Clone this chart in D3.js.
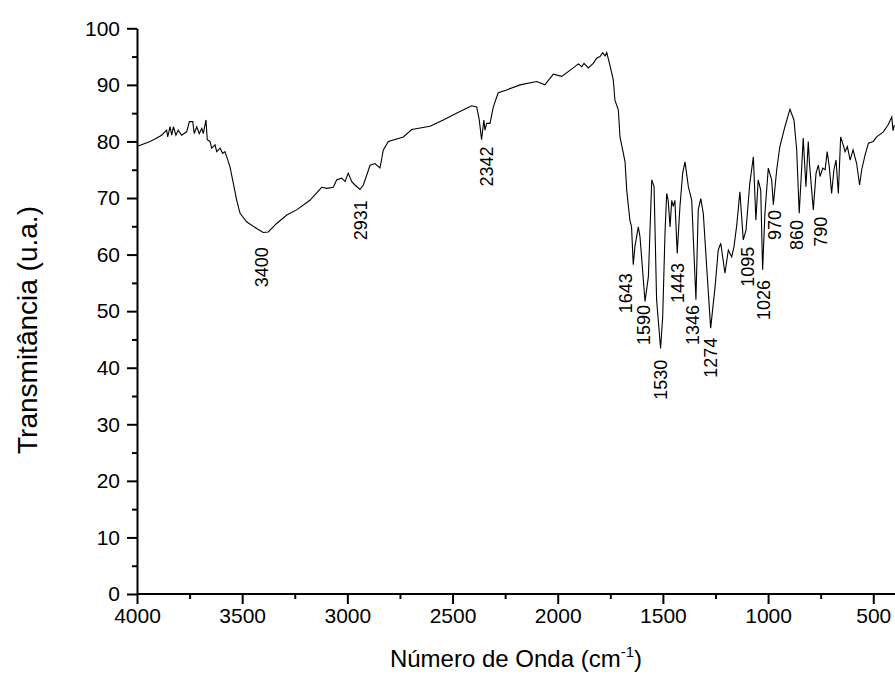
<!DOCTYPE html>
<html>
<head>
<meta charset="utf-8">
<script src="https://cdn.jsdelivr.net/npm/d3@7/dist/d3.min.js"></script>
<style>
  body { margin: 0; background: #fff; }
  svg { display: block; font-family: "Liberation Sans", Arial, sans-serif; }
</style>
</head>
<body>
<svg id="chart" width="895" height="684"></svg>
<script>
// Wavenumber (cm-1) and transmittance (u.a.)
const wavenumbers = [3994,3938,3906,3883,3859,3854,3843,3835,3827,3815,3804,3788,3764,3751,3735,3728,3716,3704,3692,3685,3672,3666,3653,3645,3629,3621,3605,3593,3582,3571,3558,3542,3526,3510,3479,3431,3400,3376,3336,3288,3241,3178,3122,3098,3067,3051,3027,3011,2996,2979,2964,2940,2924,2892,2869,2845,2829,2805,2734,2694,2607,2544,2465,2409,2385,2373,2362,2351,2346,2338,2322,2306,2283,2243,2179,2100,2061,2021,1981,1926,1902,1886,1875,1855,1831,1815,1799,1786,1775,1767,1752,1736,1728,1712,1704,1688,1680,1672,1657,1649,1641,1633,1617,1609,1585,1569,1553,1542,1530,1511,1501,1490,1482,1475,1466,1458,1451,1443,1432,1419,1406,1395,1379,1363,1343,1332,1320,1308,1292,1273,1252,1237,1225,1205,1189,1173,1162,1149,1134,1118,1105,1087,1070,1058,1047,1035,1026,1015,999,983,975,959,944,920,896,877,864,852,840,833,820,809,803,785,772,761,753,740,729,719,709,698,687,677,666,655,643,634,623,610,596,579,565,555,539,523,500,484,452,430,412,406,400];
const transmittance = [79.2,80.0,80.6,81.1,82.0,80.8,82.6,81.1,82.6,81.1,82.0,81.1,81.7,83.5,83.5,81.4,82.6,81.4,82.3,81.4,83.8,80.3,80.0,78.8,79.4,78.2,78.8,77.9,78.2,77.0,75.5,72.6,69.6,67.3,65.8,64.6,63.9,64.0,65.5,67.0,67.9,69.6,71.9,71.7,71.9,73.2,73.5,72.9,74.4,72.9,72.3,71.5,72.3,75.8,76.1,75.3,78.5,80.0,80.8,82.1,82.7,83.8,85.3,86.3,86.1,83.8,80.3,83.8,82.0,83.2,83.2,86.1,88.6,89.1,90.0,90.6,90.0,91.9,91.5,93.0,93.7,93.2,93.8,93.0,93.8,94.7,95.0,95.7,95.1,95.7,93.5,90.9,87.3,85.6,80.8,77.9,76.4,71.4,66.1,64.9,58.2,61.4,64.9,63.2,51.7,56.1,73.2,72.0,52.0,43.4,49.0,63.8,70.8,69.6,64.9,69.6,68.5,69.6,60.2,68.5,74.4,76.4,72.0,69.6,52.0,67.9,69.9,67.3,57.9,47.0,54.3,60.8,62.0,56.7,60.8,59.6,61.4,65.2,71.1,62.6,64.3,72.6,77.3,66.1,73.2,71.4,57.3,67.3,75.3,73.2,68.8,75.0,79.1,82.6,85.7,83.8,78.5,67.3,75.5,80.6,72.0,80.0,76.0,67.9,74.4,75.8,73.8,75.3,75.0,78.2,75.5,70.8,75.0,76.7,70.8,80.8,79.4,78.2,79.1,76.7,78.5,76.1,72.3,75.0,77.6,79.7,80.0,80.8,81.7,82.9,84.3,81.9,82.9];

// Peak annotations: text, wavenumber where the label sits, transmittance at the label's top
const peakTexts = ["3400","2931","2342","1643","1590","1530","1443","1346","1274","1095","1026","970","860","790"];
const peakLabelWn = [3405,2935,2338,1677,1590,1510,1428,1359,1272,1098,1020,967,864,750];
const peakLabelTop = [61.3,69.6,79.1,56.7,51.1,41.4,58.5,51.1,45.3,61.4,55.5,67.9,66.1,66.7];

const xTicks = [4000,3500,3000,2500,2000,1500,1000,500];
const xMinorTicks = [3750,3250,2750,2250,1750,1250,750];
const yTicks = [0,10,20,30,40,50,60,70,80,90,100];
const yMinorTicks = [5,15,25,35,45,55,65,75,85,95];

const xTitle = "Número de Onda (cm";
const xTitleSup = "-1";
const yTitle = "Transmitância (u.a.)";

const svg = d3.select("#chart");
const mLeft = 137, mRight = 894.3, mTop = 28.3, mBottom = 594;

const x = d3.scaleLinear().domain([4000, 400]).range([mLeft, mRight]);
const y = d3.scaleLinear().domain([0, 100]).range([mBottom, mTop]);

svg.append("clipPath").attr("id", "clip")
  .append("rect").attr("x", mLeft).attr("y", 0).attr("width", mRight - mLeft + 2).attr("height", mBottom);

const data = wavenumbers.map((w, i) => ({ w, t: transmittance[i] }));
const line = d3.line().x(d => x(d.w)).y(d => y(d.t));

svg.append("path")
  .datum(data)
  .attr("clip-path", "url(#clip)")
  .attr("fill", "none")
  .attr("stroke", "#000")
  .attr("stroke-width", 1.1)
  .attr("d", line);

// Axes
const axisColor = "#000";
const fmt = d3.format("d");
const gx = svg.append("g").attr("transform", `translate(0,${mBottom})`);
gx.call(d3.axisBottom(x).tickValues(xMinorTicks).tickSize(5).tickSizeOuter(0).tickFormat(""));
gx.select(".domain").remove();
const gx2 = svg.append("g").attr("transform", `translate(0,${mBottom})`);
gx2.call(d3.axisBottom(x).tickValues(xTicks).tickSize(10).tickSizeOuter(0).tickPadding(4).tickFormat(fmt));
gx2.select(".domain").remove();
svg.append("line").attr("x1", mLeft).attr("x2", 895).attr("y1", mBottom).attr("y2", mBottom)
  .attr("stroke", axisColor).attr("stroke-width", 2);

const gy = svg.append("g").attr("transform", `translate(${mLeft},0)`);
gy.call(d3.axisLeft(y).tickValues(yMinorTicks).tickSize(5).tickSizeOuter(0).tickFormat(""));
gy.select(".domain").remove();
const gy2 = svg.append("g").attr("transform", `translate(${mLeft},0)`);
gy2.call(d3.axisLeft(y).tickValues(yTicks).tickSize(10).tickSizeOuter(0).tickPadding(7).tickFormat(fmt));
gy2.select(".domain").attr("stroke-width", 2);

svg.selectAll(".tick line").attr("stroke", axisColor).attr("stroke-width", 2);
svg.selectAll(".tick text")
  .attr("font-family", "'Liberation Sans', Arial, sans-serif")
  .attr("font-size", 21)
  .attr("fill", "#000");

// Peak labels
svg.append("g").selectAll("text")
  .data(peakTexts)
  .join("text")
  .attr("transform", (d, i) => `translate(${x(peakLabelWn[i])},${y(peakLabelTop[i])}) rotate(-90)`)
  .attr("text-anchor", "end")
  .attr("dy", "0.35em")
  .attr("font-size", 18)
  .attr("fill", "#000")
  .text(d => d);

// Axis titles
const xt = svg.append("text")
  .attr("x", 516)
  .attr("y", 667)
  .attr("text-anchor", "middle")
  .attr("font-size", 24)
  .attr("fill", "#000");
xt.append("tspan").text(xTitle);
xt.append("tspan").attr("font-size", 15).attr("dy", -10).text(xTitleSup);
xt.append("tspan").attr("dy", 10).text(")");

svg.append("text")
  .attr("transform", `translate(37,330) rotate(-90)`)
  .attr("text-anchor", "middle")
  .attr("font-size", 28)
  .attr("fill", "#000")
  .text(yTitle);
</script>
</body>
</html>
